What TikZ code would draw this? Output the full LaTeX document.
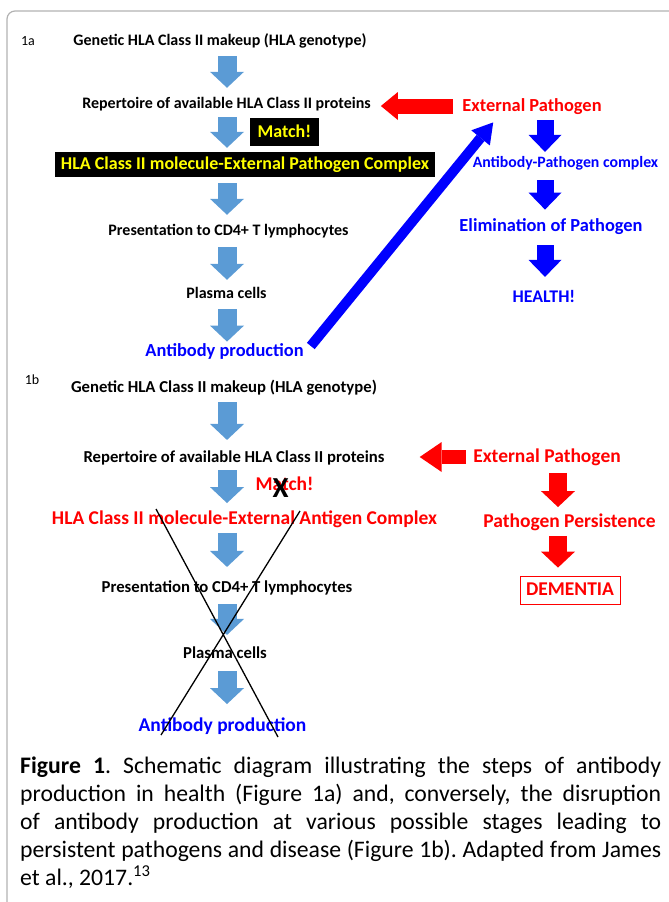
\documentclass[tikz,border=0pt]{standalone}
\usepackage{fontspec}
\setmainfont{Carlito}
\usetikzlibrary{arrows.meta}
\definecolor{lblue}{HTML}{5B9BD5}
\definecolor{dblue}{HTML}{0000FF}
\definecolor{dred}{HTML}{FF0000}
\definecolor{ylw}{HTML}{FFFF00}
\newcommand{\fsz}[1]{\fontsize{#1}{#1}\selectfont}
\newcommand{\tstrut}{\vrule height.8em depth.2em width0pt}

\begin{document}
\begin{tikzpicture}
  [x=1pt,y=-1pt,
   lbl/.style={inner sep=0pt,execute at begin node=\tstrut},
   blk/.style={lbl,font=\bfseries\fsz{16}},
   blkb/.style={lbl,font=\bfseries\fsz{16.7}},
   redt/.style={lbl,text=dred,font=\bfseries\fsz{19.5}},
   bluet/.style={lbl,text=dblue,font=\bfseries\fsz{18.4}},
   ybox/.style={lbl,fill=black,text=ylw,font=\bfseries\fsz{18}},
   lbarrow/.style={draw=lblue,line width=19pt,-{Triangle[width=34pt,length=16pt,line width=0pt]}},
   bbarrow/.style={draw=dblue,line width=17pt,-{Triangle[width=33pt,length=17pt,line width=0pt]}},
   rbarrow/.style={draw=dred,line width=18pt,-{Triangle[width=34pt,length=16pt,line width=0pt]}}]
  \useasboundingbox (0,0) rectangle (669,902);
  \draw[gray!60,line width=1.2pt,rounded corners=8pt] (671,11) -- (7,11) -- (7,904);
  \coordinate (colA) at (227,0);
  \coordinate (colB) at (545,0);
  \coordinate (colD) at (558,0);

  \node[lbl,font=\fsz{14}] (lab1a) at (28,41) {1a};
  \node[blk] (gen1) at (220,41) {Genetic HLA Class II makeup (HLA genotype)};
  \node[blk] (rep1) at (226.5,104) {Repertoire of available HLA Class II proteins};
  \node[redt,font=\bfseries\fsz{18.4}] (ext1) at (532,106) {External Pathogen};
  \node[ybox,minimum width=69pt,minimum height=28pt] (match1) at (284.5,132) {Match!};
  \node[ybox,minimum width=380pt,minimum height=25pt] (cpx1) at (245,164.5) {HLA Class II molecule-External Pathogen Complex};
  \node[blk] (pres1) at (228.5,231) {Presentation to CD4+ T lymphocytes};
  \node[blk] (plasma1) at (226.5,294) {Plasma cells};
  \node[bluet] (abprod1) at (224.5,351) {Antibody production};
  \node[bluet,font=\bfseries\fsz{15.8}] (abpc) at (565.5,163) {Antibody-Pathogen complex};
  \node[bluet] (elim) at (551,226) {Elimination of Pathogen};
  \node[bluet,font=\bfseries\fsz{17.8}] (health) at (544,297) {HEALTH!};

  \node[lbl,font=\fsz{14}] (lab1b) at (32,380) {1b};
  \node[blkb] (gen2) at (224,387) {Genetic HLA Class II makeup (HLA genotype)};
  \node[blkb] (rep2) at (234,457) {Repertoire of available HLA Class II proteins};
  \node[redt] (ext2) at (547,457) {External Pathogen};
  \node[redt] (match2) at (284.5,485) {Match!};
  \node[lbl,font=\bfseries\fsz{29}] (nox) at (280.5,488.5) {X};
  \node[redt] (cpx2) at (244.5,519) {HLA Class II molecule-External Antigen Complex};
  \node[redt] (ppers) at (569.5,522) {Pathogen Persistence};
  \node[redt,draw=dred,line width=0.8pt,minimum width=100pt,minimum height=28pt] (dem) at (570,590) {DEMENTIA};
  \node[blkb] (pres2) at (227,587) {Presentation to CD4+ T lymphocytes};
  \node[blkb] (plasma2) at (225,653) {Plasma cells};
  \node[bluet,font=\bfseries\fsz{19.5}] (abprod2) at (222.5,726) {Antibody production};

  \foreach \from/\to/\sa/\sb in {gen1/rep1/7pt/8pt, rep1/cpx1/5pt/4pt, cpx1/pres1/6pt/8pt, pres1/plasma1/8pt/6pt, plasma1/abprod1/7pt/0pt,
    gen2/rep2/6.5pt/8.5pt, rep2/cpx2/4.5pt/6pt, cpx2/pres2/4pt/11.5pt, pres2/plasma2/8.5pt/9.5pt, plasma2/abprod2/9.5pt/12pt}
    \draw[lbarrow,shorten <=\sa,shorten >=\sb] (\from.south -| colA) -- (\to.north -| colA);
  \foreach \from/\to/\sa/\sb in {ext1/abpc/5pt/3pt, abpc/elim/9pt/7pt, elim/health/10pt/11pt}
    \draw[bbarrow,shorten <=\sa,shorten >=\sb] (\from.south -| colB) -- (\to.north -| colB);
  \foreach \from/\to/\sa/\sb in {ext2/ppers/6pt/5pt, ppers/dem/4pt/8pt}
    \draw[rbarrow,shorten <=\sa,shorten >=\sb] (\from.south -| colD) -- (\to.north -| colD);

  \draw[draw=dred,line width=15pt,-{Triangle[width=28pt,length=17pt,line width=0pt]},shorten <=9pt,shorten >=10pt] (ext1.west) -- (rep1.east |- ext1.west);
  \draw[draw=dred,line width=14pt,-{Triangle[width=30pt,length=22pt,line width=0pt]},shorten <=7pt,shorten >=35pt] (ext2.west) -- (rep2.east |- ext2.west);
  \draw[draw=dblue,line width=10pt,-{Triangle[width=24pt,length=20pt,line width=0pt]}] ([xshift=7pt,yshift=5pt]abprod1.east) -- ([xshift=31pt,yshift=-7pt]ext1.south west);

  \draw[line width=1.3pt] (156,509) -- (278,737) (300,511) -- (161,735);

  \node[anchor=north west,inner sep=0pt,text width=641pt,align=justify,font=\fontsize{23.7}{28}\selectfont] (capt) at (20,757)
    {\frenchspacing\tolerance=9999\hbadness=10000 \textbf{Figure 1}. Schematic diagram illustrating the steps of antibody\linebreak production in health (Figure 1a) and, conversely, the disruption\linebreak of antibody production at various possible stages leading to\linebreak persistent pathogens and disease (Figure 1b). Adapted from James\linebreak et al., 2017.\textsuperscript{13}};
\end{tikzpicture}
\end{document}
